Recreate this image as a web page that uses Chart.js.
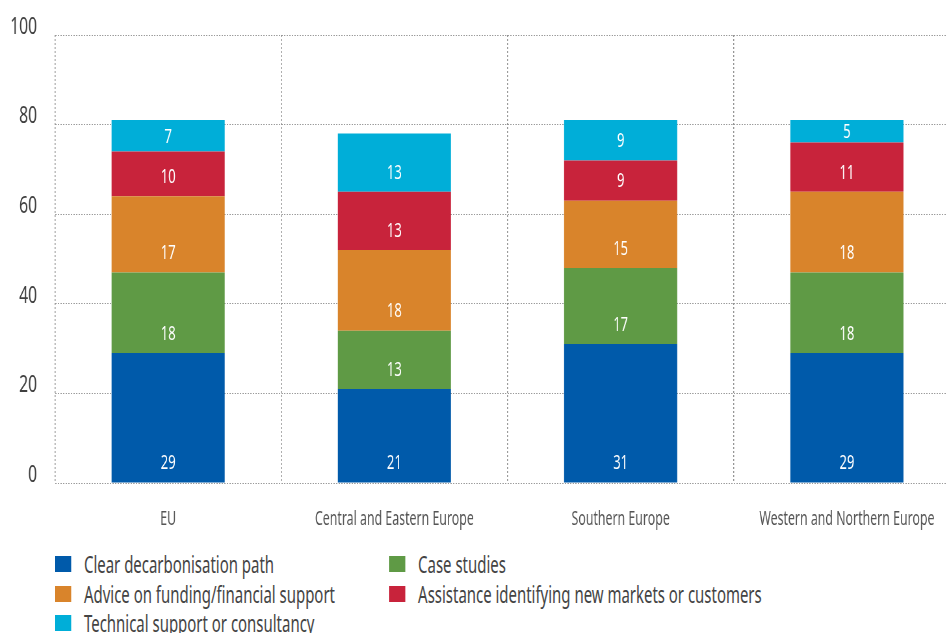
<!DOCTYPE html>
<html>
<head>
<meta charset="utf-8">
<script src="https://cdn.jsdelivr.net/npm/chart.js@4/dist/chart.umd.min.js"></script>
<style>
    body { margin: 0; background: #fff; }
    #wrap { position: relative; width: 946px; height: 633px; overflow: hidden; }
    /* the reference uses a condensed face: squeeze everything horizontally */
    #box { position: absolute; left: 0; top: 0; width: 1477px; height: 533px; transform: scaleX(0.65); transform-origin: 0 0; }
    #legend { position: absolute; left: 55px; top: 554px; display: grid; grid-template-columns: 514px 700px; row-gap: 9.5px;
        transform: scaleX(0.65); transform-origin: 0 0; white-space: nowrap;
        font-family: 'Noto Sans', sans-serif; font-size: 23px; color: #444; }
    #legend div { display: flex; align-items: center; height: 20px; }
    #legend span { display: inline-block; width: 24.6px; height: 16px; margin-right: 20px; }
</style>
</head>
<body>
<div id="wrap">
    <div id="box"><canvas id="chart1"></canvas></div>
    <div id="legend"></div>
</div>
<script>
const categories = ['EU', 'Central and Eastern Europe', 'Southern Europe', 'Western and Northern Europe']
const seriesNames = ['Clear decarbonisation path', 'Case studies', 'Advice on funding/financial support',
    'Assistance identifying new markets or customers', 'Technical support or consultancy']
const clearPath = [29, 21, 31, 29]
const caseStudies = [18, 13, 17, 18]
const fundingAdvice = [17, 18, 15, 18]
const newMarkets = [10, 13, 9, 11]
const technicalSupport = [7, 13, 9, 5]
const yTicks = [0, 20, 40, 60, 80, 100]

const colores = ['#005aaa', '#5f9a45', '#d9842b', '#c8233b', '#00aed8']
const fuente = "'Noto Sans', sans-serif"
const k = 0.65

iniciarGrafico()

function iniciarGrafico(){
    const valores = [clearPath, caseStudies, fundingAdvice, newMarkets, technicalSupport]
    const data = {
        labels: categories,
        datasets: valores.map((v, i) => ({
            label: seriesNames[i],
            data: v,
            backgroundColor: colores[i],
            borderWidth: 0,
            categoryPercentage: 1,
            barPercentage: 0.5
        }))
    }

    // etiquetas blancas: 20px sobre la base del segmento, o centradas si no caben
    const etiquetas = {
        id: 'etiquetas',
        afterDatasetsDraw(chart){
            const ctx = chart.ctx
            ctx.save()
            ctx.fillStyle = '#fff'
            ctx.font = '20px ' + fuente
            ctx.textAlign = 'center'
            ctx.textBaseline = 'middle'
            chart.data.datasets.forEach((ds, i) => {
                chart.getDatasetMeta(i).data.forEach((bar, j) => {
                    const y = Math.max(bar.base - 20, (bar.y + bar.base) / 2)
                    ctx.fillText(ds.data[j], bar.x, y + 1)
                })
            })
            ctx.restore()
        }
    }

    new Chart(document.getElementById('chart1'), {
        type: 'bar',
        data,
        plugins: [etiquetas],
        options: {
            responsive: true,
            maintainAspectRatio: false,
            animation: false,
            layout: { padding: { top: 35, left: 0, right: 0, bottom: 0 } },
            plugins: { legend: { display: false }, tooltip: { enabled: false } },
            scales: {
                x: {
                    stacked: true,
                    offset: true,
                    grid: { offset: true, color: '#8f8f8f', lineWidth: 1.5, drawTicks: false },
                    border: { display: false, dash: [2, 2] },
                    ticks: { color: '#555', font: { family: fuente, size: 19 }, padding: 25 },
                    afterFit(s){ s.height = 50; s.paddingLeft = 0; s.paddingRight = 0 }
                },
                y: {
                    stacked: true,
                    min: 0,
                    max: 100,
                    afterBuildTicks(s){ s.ticks = yTicks.map(v => ({ value: v })) },
                    grid: { color: '#9a9a9a', lineWidth: 1, drawTicks: false },
                    border: { display: false, dash: [2, 2] },
                    ticks: { color: '#404040', font: { family: fuente, size: 24 }, padding: 27.7, labelOffset: -8 },
                    afterFit(s){ s.width = 55 / k; s.paddingTop = 0; s.paddingBottom = 0 }
                }
            }
        }
    })

    const leyenda = document.getElementById('legend')
    seriesNames.forEach((n, i) => {
        const d = document.createElement('div')
        d.innerHTML = '<span style="background:' + colores[i] + '"></span>' + n
        leyenda.appendChild(d)
    })
}
</script>
</body>
</html>
